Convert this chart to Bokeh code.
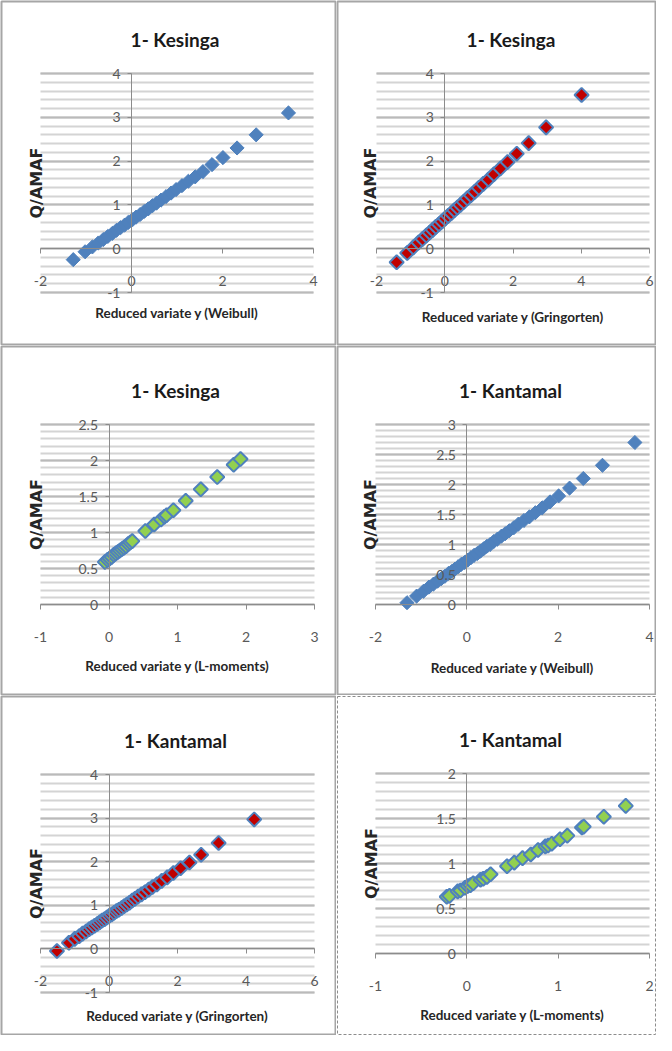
from math import pi
from bokeh.plotting import figure
from bokeh.models import Label, SingleIntervalTicker, CustomJSTickFormatter
from bokeh.layouts import column, row
from bokeh.embed import file_html
from bokeh.resources import INLINE

# ---------------- data ----------------
kes_weibull_y = [-1.28, -1.02, -0.86, -0.73, -0.62, -0.52, -0.42, -0.33, -0.24, -0.15, -0.07, 0.02, 0.10,
                 0.19, 0.28, 0.37, 0.46, 0.55, 0.65, 0.76, 0.87, 0.98, 1.11, 1.25, 1.40, 1.57, 1.77, 2.01,
                 2.32, 2.74, 3.45]
kes_weibull_q = [-0.25, -0.07, 0.04, 0.13, 0.21, 0.28, 0.35, 0.42, 0.48, 0.54, 0.60, 0.66, 0.72,
                 0.78, 0.85, 0.91, 0.98, 1.04, 1.11, 1.19, 1.27, 1.35, 1.44, 1.54, 1.64, 1.76, 1.92, 2.08,
                 2.30, 2.60, 3.10]

kes_gring_y = [-1.41, -1.10, -0.92, -0.77, -0.65, -0.54, -0.44, -0.35, -0.26, -0.17, -0.08, 0.01, 0.10,
               0.19, 0.28, 0.37, 0.46, 0.56, 0.66, 0.77, 0.88, 1.00, 1.13, 1.28, 1.44, 1.63, 1.84, 2.11,
               2.46, 2.97, 4.01]
kes_gring_q = [-0.31, -0.10, 0.03, 0.14, 0.22, 0.30, 0.37, 0.43, 0.50, 0.56, 0.62, 0.69, 0.75,
               0.81, 0.88, 0.94, 1.00, 1.07, 1.15, 1.22, 1.30, 1.39, 1.48, 1.58, 1.70, 1.83, 1.98, 2.17,
               2.41, 2.77, 3.51]

kes_lmom_y = [-0.06, -0.02, 0.01, 0.04, 0.07, 0.10, 0.13, 0.16, 0.19, 0.22, 0.25, 0.28, 0.31, 0.34,
              0.53, 0.66, 0.76, 0.81, 0.84, 0.94, 1.12, 1.34, 1.58, 1.82, 1.92]
kes_lmom_q = [0.59, 0.62, 0.64, 0.66, 0.69, 0.71, 0.73, 0.75, 0.77, 0.79, 0.81, 0.84, 0.86, 0.88,
              1.02, 1.11, 1.18, 1.22, 1.24, 1.31, 1.44, 1.60, 1.77, 1.94, 2.02]

kan_weibull_y = [-1.31, -1.10, -0.95, -0.83, -0.73, -0.64, -0.56, -0.48, -0.40, -0.33, -0.26, -0.19, -0.12,
                 -0.05, 0.02, 0.09, 0.16, 0.23, 0.30, 0.37, 0.44, 0.51, 0.59, 0.67, 0.76, 0.84, 0.93, 1.03,
                 1.13, 1.25, 1.37, 1.50, 1.65, 1.82, 2.01, 2.25, 2.55, 2.97, 3.68]
kan_weibull_q = [0.03, 0.14, 0.22, 0.29, 0.34, 0.39, 0.43, 0.47, 0.52, 0.55, 0.59, 0.63, 0.67,
                 0.70, 0.74, 0.78, 0.82, 0.85, 0.89, 0.93, 0.97, 1.00, 1.05, 1.09, 1.14, 1.18, 1.23, 1.28,
                 1.34, 1.40, 1.46, 1.53, 1.61, 1.71, 1.81, 1.94, 2.10, 2.32, 2.70]

kan_gring_y = [-1.52, -1.17, -1.00, -0.87, -0.77, -0.67, -0.58, -0.50, -0.42, -0.34, -0.27, -0.20, -0.13,
               -0.06, 0.01, 0.08, 0.15, 0.22, 0.29, 0.37, 0.44, 0.52, 0.60, 0.68, 0.76, 0.85, 0.95, 1.05,
               1.16, 1.27, 1.40, 1.54, 1.70, 1.88, 2.09, 2.35, 2.69, 3.20, 4.24]
kan_gring_q = [-0.05, 0.14, 0.23, 0.29, 0.35, 0.40, 0.45, 0.49, 0.53, 0.57, 0.61, 0.65, 0.68,
               0.72, 0.76, 0.79, 0.83, 0.87, 0.90, 0.94, 0.98, 1.02, 1.06, 1.11, 1.15, 1.20, 1.25, 1.30,
               1.36, 1.42, 1.48, 1.56, 1.64, 1.74, 1.85, 1.98, 2.16, 2.43, 2.97]

kan_lmom_y = [-0.22, -0.19, -0.10, -0.07, -0.02, 0.01, 0.04, 0.07, 0.15, 0.18, 0.22, 0.26, 0.44,
              0.52, 0.61, 0.70, 0.78, 0.86, 0.89, 0.93, 1.02, 1.10, 1.26, 1.28, 1.50, 1.74]
kan_lmom_q = [0.63, 0.64, 0.69, 0.70, 0.73, 0.75, 0.76, 0.78, 0.82, 0.83, 0.85, 0.88, 0.97,
              1.01, 1.06, 1.10, 1.15, 1.19, 1.20, 1.22, 1.27, 1.31, 1.40, 1.41, 1.52, 1.64]

titles = ["1- Kesinga", "1- Kesinga", "1- Kesinga", "1- Kantamal", "1- Kantamal", "1- Kantamal"]
xlabels = ["Reduced variate y (Weibull)", "Reduced variate y (Gringorten)", "Reduced variate y (L-moments)",
           "Reduced variate y (Weibull)", "Reduced variate y (Gringorten)", "Reduced variate y (L-moments)"]
ylabel = "Q/AMAF"

BLUE = "#4F81BD"
RED = "#C00000"
GREEN = "#92D050"


def panel(w, h, pl, pt, pw, ph, xr, yr, xint, yint, xs, qs, fill, line, lw,
          title, xlabel, xlab_dy, ylab_dx, dashed=False):
    x0, x1 = xr
    y0, y1 = yr
    kx = (x1 - x0) / pw
    ky = (y1 - y0) / ph

    def dx(px):
        return x0 + (px - pl) * kx

    def dy(py):
        return y1 - (py - pt) * ky

    p = figure(width=w, height=h, x_range=(dx(1), dx(w - 1)), y_range=(dy(h - 1), dy(1)),
               output_backend="svg", toolbar_location=None,
               min_border_left=1, min_border_right=1, min_border_top=1, min_border_bottom=1,
               background_fill_color="white", border_fill_color="white",
               outline_line_color="#8c8c8c" if dashed else "#a6a6a6",
               outline_line_width=1 if dashed else 2,
               outline_line_dash="3 2" if dashed else "solid")
    xt = SingleIntervalTicker(interval=xint, num_minor_ticks=0)
    yt = SingleIntervalTicker(interval=yint, num_minor_ticks=5)
    fmt = CustomJSTickFormatter(code="return String(Math.round(tick*10)/10);")
    p.xaxis.ticker = xt
    p.yaxis.ticker = yt
    p.xaxis.fixed_location = 0
    p.yaxis.fixed_location = 0
    p.xaxis.bounds = (x0, x1)
    p.yaxis.bounds = (y0, y1)
    for ax in (p.xaxis, p.yaxis):
        ax.axis_line_color = "#8c8c8c"
        ax.major_tick_line_color = "#8c8c8c"
        ax.minor_tick_line_color = None
        ax.major_tick_in = 0
        ax.major_label_text_font = "Lato"
        ax.major_label_text_font_size = "14px"
        ax.major_label_text_color = "#595959"
        ax.formatter = fmt
    p.xaxis.major_tick_out = 5
    p.xaxis.major_label_standoff = 22
    p.yaxis.major_tick_out = 4
    p.yaxis.major_label_standoff = 7
    p.xgrid.visible = False
    g = p.ygrid[0]
    g.ticker = yt
    g.bounds = (y0, y1)
    try:
        g.cross_bounds = (x0, x1)
    except AttributeError:
        pass
    g.grid_line_color = "#bababa"
    g.grid_line_width = 2
    g.minor_grid_line_color = "#d4d4d4"
    g.minor_grid_line_width = 2

    p.scatter(xs, qs, marker="square", angle=pi / 4, size=10,
              fill_color=fill, line_color=line, line_width=lw)

    p.add_layout(Label(x=dx(pl + pw / 2 - 2), y=dy(pt - 34),
                       text=title, text_align="center", text_baseline="middle",
                       text_font="Lato", text_font_style="bold", text_font_size="19px",
                       text_color="#1a1a1a"))
    p.add_layout(Label(x=dx(pl + pw / 2), y=dy(pt + ph + xlab_dy + 5),
                       text=xlabel, text_align="center", text_baseline="middle",
                       text_font="Lato", text_font_style="bold", text_font_size="13.5px",
                       text_color="#262626"))
    p.add_layout(Label(x=dx(pl + ylab_dx + 6), y=dy(pt + ph / 2),
                       text=ylabel, angle=pi / 2, text_align="center", text_baseline="middle",
                       text_font="DejaVu Sans", text_font_style="bold", text_font_size="16px",
                       text_color="#262626"))
    return p


p1 = panel(336, 345, 40, 73, 273, 219, (-2, 4), (-1, 4), 2, 1, kes_weibull_y, kes_weibull_q,
           BLUE, BLUE, 1, titles[0], xlabels[0], 15, -10)
p2 = panel(320, 345, 40, 73, 273, 219, (-2, 6), (-1, 4), 2, 1, kes_gring_y, kes_gring_q,
           RED, BLUE, 2, titles[1], xlabels[1], 19, -12)
p3 = panel(336, 350, 40, 79, 274, 180, (-1, 3), (0, 2.5), 1, 0.5, kes_lmom_y, kes_lmom_q,
           GREEN, BLUE, 2, titles[2], xlabels[2], 56, -10)
p4 = panel(320, 350, 39, 79, 274, 180, (-2, 4), (0, 3), 2, 0.5, kan_weibull_y, kan_weibull_q,
           BLUE, BLUE, 1, titles[3], xlabels[3], 58, -11)
p5 = panel(336, 340, 40, 79, 274, 218, (-2, 6), (-1, 4), 2, 1, kan_gring_y, kan_gring_q,
           RED, BLUE, 2, titles[4], xlabels[4], 18, -10)
p6 = panel(320, 340, 39, 78, 274, 180, (-1, 2), (0, 2), 1, 0.5, kan_lmom_y, kan_lmom_q,
           GREEN, BLUE, 2, titles[5], xlabels[5], 56, -10, dashed=True)

layout = column(row(p1, p2), row(p3, p4), row(p5, p6))
open("out.html", "w").write(file_html(layout, INLINE))
